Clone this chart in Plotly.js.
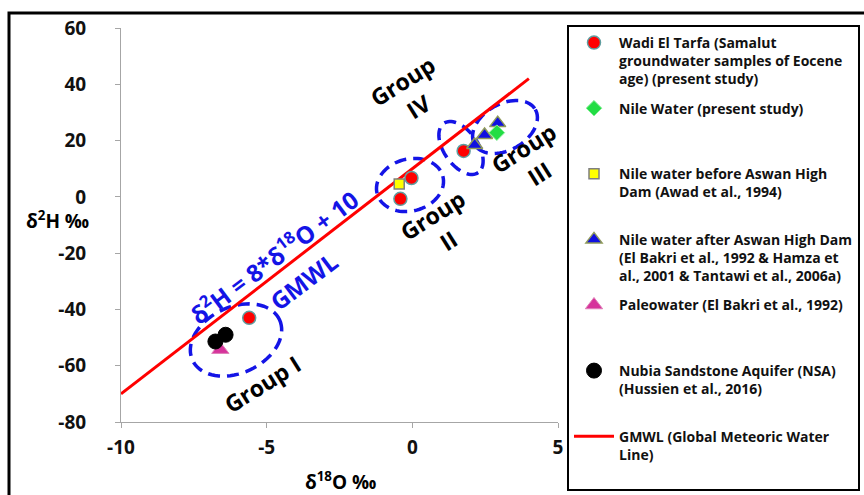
<!DOCTYPE html>
<html>
<head>
<meta charset="utf-8">
<script src="https://cdn.plot.ly/plotly-3.0.1.min.js"></script>
<style>html,body{margin:0;padding:0;background:#fff;}#chart{width:864px;height:495px;}</style>
</head>
<body>
<div id="chart"></div>
<script>
// ---- data ----
const wadiX = [-5.6, -0.41, -0.03, 1.76];
const wadiY = [-43, -0.7, 6.7, 16.3];
const nileX = [2.9];
const nileY = [22.8];
const nileBeforeX = [-0.45];
const nileBeforeY = [4.6];
const nileAfterX = [2.14, 2.48, 2.93];
const nileAfterY = [18.4, 22.0, 26.2];
const paleoX = [-6.59];
const paleoY = [-54.3];
const nsaX = [-6.76, -6.41];
const nsaY = [-51.4, -49.0];
const gmwlX = [-10, 4];
const gmwlY = [-70, 42];

const xTicks = [-10, -5, 0, 5];
const yTicks = [-80, -60, -40, -20, 0, 20, 40, 60];

const names = [
  "Wadi El Tarfa (Samalut<br>groundwater samples of Eocene<br>age) (present study)",
  "Nile Water (present study)<br>\u00a0<br>\u00a0",
  "Nile water before Aswan High<br>Dam (Awad et al., 1994)<br>\u00a0",
  "Nile water after Aswan High Dam<br>(El Bakri et al., 1992 & Hamza et<br>al., 2001 & Tantawi et al., 2006a)",
  "Paleowater (El Bakri et al., 1992)<br>\u00a0<br>\u00a0",
  "Nubia Sandstone Aquifer (NSA)<br>(Hussien et al., 2016)<br>\u00a0",
  "GMWL (Global Meteoric Water<br>Line)<br>\u00a0"
];

// ---- layout geometry helpers ----
const W = 864, H = 495;
const M = {l: 121, r: 306, t: 28, b: 73, autoexpand: false};
const plotW = W - M.l - M.r, plotH = H - M.t - M.b;
const xr = [-10, 5], yr = [-80, 60];
function px2x(px) { return xr[0] + (px - M.l) / plotW * (xr[1] - xr[0]); }
function py2y(py) { return yr[0] + (H - M.b - py) / plotH * (yr[1] - yr[0]); }
function ellipse(cx, cy, a, b, angDeg) {
  const t = angDeg * Math.PI / 180;
  let d = '';
  for (let i = 0; i <= 72; i++) {
    const p = i / 72 * 2 * Math.PI;
    const ex = a * Math.cos(p), ey = b * Math.sin(p);
    const sx = cx + ex * Math.cos(t) - ey * Math.sin(t);
    const sy = cy + ex * Math.sin(t) + ey * Math.cos(t);
    d += (i === 0 ? 'M' : 'L') + px2x(sx).toFixed(4) + ',' + py2y(sy).toFixed(4);
  }
  return d + 'Z';
}

const FONT = '"Open Sans", Lato, Arial, sans-serif';

const traces = [
  {x: gmwlX, y: gmwlY, mode: 'lines', name: names[6], legendrank: 7, legendgroup: 'g7',
   line: {color: '#ff0000', width: 3}},
  {x: paleoX, y: paleoY, mode: 'markers', name: names[4], legendrank: 5, legendgroup: 'g5',
   marker: {symbol: 'triangle-up', size: 15, color: '#d6339b', line: {color: '#e080b8', width: 1}}},
  {x: nsaX, y: nsaY, mode: 'markers', name: names[5], legendrank: 6, legendgroup: 'g6',
   marker: {symbol: 'circle', size: 15, color: '#000000', line: {color: '#000', width: 1}}},
  {x: wadiX, y: wadiY, mode: 'markers', name: names[0], legendrank: 1, legendgroup: 'g1',
   marker: {symbol: 'circle', size: 13, color: '#ff0000', line: {color: '#5f9ea0', width: 1.5}}},
  {x: nileBeforeX, y: nileBeforeY, mode: 'markers', name: names[2], legendrank: 3, legendgroup: 'g3',
   marker: {symbol: 'square', size: 10, color: '#ffff00', line: {color: '#7f7f7f', width: 1.5}}},
  {x: nileAfterX, y: nileAfterY, mode: 'markers', name: names[3], legendrank: 4, legendgroup: 'g4',
   marker: {symbol: 'triangle-up', size: 14, color: '#1010e0', line: {color: '#8f9a5a', width: 1.5}}},
  {x: nileX, y: nileY, mode: 'markers', name: names[1], legendrank: 2, legendgroup: 'g2',
   marker: {symbol: 'diamond', size: 12, color: '#22dd44', line: {color: '#88ee99', width: 1}}}
];

const ellColor = '#1414e6';
const ell = (p) => ({type: 'path', xref: 'x', yref: 'y', path: p, layer: 'below',
  line: {color: ellColor, width: 3.5, dash: '12px,7px'}});

const shapes = [
  ell(ellipse(236, 340, 48, 33, -25)),
  ell(ellipse(410, 185, 34, 26, -15)),
  ell(ellipse(461, 148, 30, 17, 55)),
  ell(ellipse(505, 127, 35, 23, -30)),
  // outer frame
  {type: 'rect', xref: 'paper', yref: 'paper',
   x0: (9 - M.l) / plotW, x1: (875 - M.l) / plotW,
   y0: (H - M.b - 510) / plotH, y1: (H - M.b - 13) / plotH,
   line: {color: '#000', width: 3}, fillcolor: 'rgba(0,0,0,0)', layer: 'below'}
];

const groupFont = {family: FONT, size: 23, color: '#000', weight: 'bold'};
const blueFont = {family: FONT, size: 24, color: '#1414e6', weight: 'bold'};
const annotations = [
  {x: px2x(262), y: py2y(384), text: 'Group I', textangle: -32, font: groupFont},
  {x: px2x(440), y: py2y(228), text: 'Group<br>II', textangle: -32, font: groupFont},
  {x: px2x(410), y: py2y(94), text: 'Group<br>IV', textangle: -32, font: groupFont},
  {x: px2x(531), y: py2y(161), text: 'Group<br>III', textangle: -32, font: groupFont},
  {x: px2x(273), y: py2y(256), text: 'δ<sup>2</sup>H = 8*δ<sup>18</sup>O + 10', textangle: -37, font: blueFont},
  {x: px2x(303), y: py2y(281), text: 'GMWL', textangle: -37, font: blueFont},
  {xref: 'paper', yref: 'paper', x: (57 - M.l) / plotW, y: (H - M.b - 220) / plotH,
   text: 'δ<sup>2</sup>H ‰', font: {family: FONT, size: 19, color: '#000', weight: 'bold'}},
  {xref: 'paper', yref: 'paper', x: (340 - M.l) / plotW, y: (H - M.b - 481) / plotH,
   text: 'δ<sup>18</sup>O ‰', font: {family: FONT, size: 19, color: '#000', weight: 'bold'}}
].map(a => Object.assign({showarrow: false, xanchor: 'center', yanchor: 'middle'}, a));

const axisCommon = {
  showgrid: false, zeroline: false, showline: true, linecolor: '#a6a6a6', linewidth: 1,
  ticks: 'outside', ticklen: 5, tickcolor: '#a6a6a6',
  tickfont: {family: FONT, size: 19, color: '#111', weight: 'bold'},
  tickmode: 'array', fixedrange: true
};

const layout = {
  width: W, height: H,
  margin: M,
  paper_bgcolor: '#fff', plot_bgcolor: '#fff',
  xaxis: Object.assign({}, axisCommon, {range: xr, tickvals: xTicks, ticktext: xTicks.map(String), ticklabelstandoff: 3}),
  yaxis: Object.assign({}, axisCommon, {range: yr, tickvals: yTicks, ticktext: yTicks.map(String), ticklabelstandoff: 25}),
  showlegend: true,
  legend: {
    x: (567 - M.l) / plotW, y: (H - M.b - 25) / plotH, xanchor: 'left', yanchor: 'top',
    maxheight: 480,
    bgcolor: '#fff', bordercolor: '#000', borderwidth: 2,
    font: {family: FONT, size: 14, color: '#111', weight: 'bold'},
    valign: 'top', traceorder: 'grouped', tracegroupgap: 8, itemwidth: 40
  },
  shapes: shapes,
  annotations: annotations
};

Plotly.newPlot('chart', traces, layout, {displayModeBar: false, staticPlot: true});
</script>
</body>
</html>
